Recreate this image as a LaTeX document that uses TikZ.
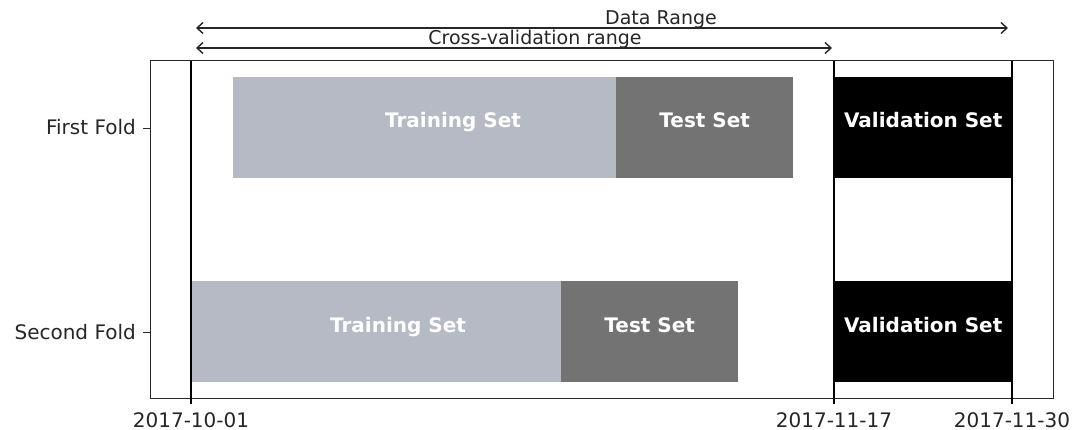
\documentclass[tikz,border=0pt]{standalone}
\usepackage{fontspec}
\setmainfont{DejaVu Sans}
\usetikzlibrary{arrows.meta}
\definecolor{trainc}{RGB}{181,186,196}
\definecolor{testc}{RGB}{115,115,115}
\definecolor{framec}{RGB}{40,40,40}
\tikzset{
  bar/.style={draw=none, inner sep=0pt, anchor=north west, minimum height=101},
  setlabel/.style={text=white, inner sep=0pt, anchor=base, font=\fontsize{20}{24}\selectfont\bfseries},
  ticklabel/.style={inner sep=0pt, font=\fontsize{20}{24}\selectfont, text=black!85},
  rangelabel/.style={inner sep=0pt, anchor=base, font=\fontsize{19}{22}\selectfont, text=black!85},
  datemark/.style={line width=2pt, black},
  tickmark/.style={line width=1pt, framec},
  rangearrow/.style={line width=1.4pt, black!85, {Straight Barb[length=6pt,width=11pt]}-{Straight Barb[length=6pt,width=11pt]}}
}
\begin{document}
\begin{tikzpicture}[x=1pt, y=-1pt]
\useasboundingbox[fill=white] (0,0) rectangle (1087,430);

% first fold
\node[bar, fill=trainc, minimum width=383] (tr1) at (233,77) {};
\node[bar, fill=testc, minimum width=177] (te1) at (616,77) {};
\node[bar, fill=black, minimum width=178] (va1) at (834,77) {};
% second fold
\node[bar, fill=trainc, minimum width=370] (tr2) at (191,281) {};
\node[bar, fill=testc, minimum width=177] (te2) at (561,281) {};
\node[bar, fill=black, minimum width=178] (va2) at (834,281) {};

% bar labels (baselines)
\node[setlabel] (ltr1) at (453,128) {Training Set};
\node[setlabel] (lte1) at (te1.center |- ltr1.base) {Test Set};
\node[setlabel] (lva1) at (va1.center |- ltr1.base) {Validation Set};
\node[setlabel] (ltr2) at (398,332) {Training Set};
\node[setlabel] (lte2) at (te2.center |- ltr2.base) {Test Set};
\node[setlabel] (lva2) at (va2.center |- ltr2.base) {Validation Set};

% axes frame
\draw[line width=1pt, framec] (150,61) rectangle (1053,398);

% date markers
\coordinate (d1t) at (191,61);
\coordinate (d1b) at (191,404);
\coordinate (d2t) at (834,61);
\coordinate (d2b) at (834,404);
\coordinate (d3t) at (1012,61);
\coordinate (d3b) at (1012,404);
\draw[datemark] (d1t) -- (d1b);
\draw[datemark] (d2t) -- (d2b);
\draw[datemark] (d3t) -- (d3b);

\node[ticklabel, anchor=base] (x1) at (191,427) {2017-10-01};
\node[ticklabel, anchor=base] (x2) at (834,427) {2017-11-17};
\node[ticklabel, anchor=base] (x3) at (1012,427) {2017-11-30};

% fold ticks
\coordinate (y1) at (143,129);
\coordinate (y2) at (143,333);
\draw[tickmark] (y1) -- ++(7,0);
\draw[tickmark] (y2) -- ++(7,0);
\node[ticklabel, anchor=base east] (f1) at (136,135) {First Fold};
\node[ticklabel, anchor=base east] (f2) at (136,339) {Second Fold};

% ranges
\coordinate (drl) at (196,28);
\coordinate (drr) at (1008,28);
\coordinate (cvl) at (196,48);
\coordinate (cvr) at (832,48);
\draw[rangearrow] (drl) -- (drr);
\draw[rangearrow] (cvl) -- (cvr);
\node[rangelabel] (dr) at (661,25) {Data Range};
\node[rangelabel] (cv) at (535,45) {Cross-validation range};
\end{tikzpicture}
\end{document}
